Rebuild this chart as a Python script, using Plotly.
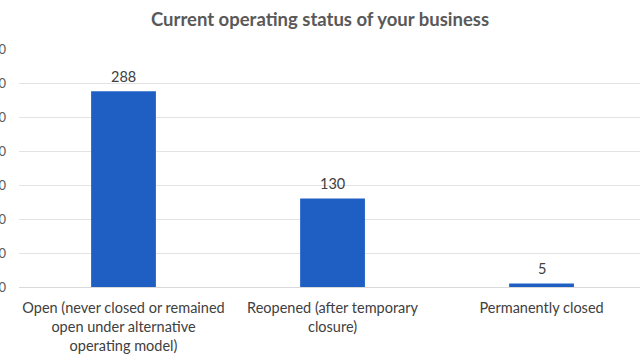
import plotly.graph_objects as go

categories = [
    "Open (never closed or remained<br>open under alternative<br>operating model)",
    "Reopened (after temporary<br>closure)",
    "Permanently closed",
]
values = [288, 130, 5]
y_ticks = [0, 50, 100, 150, 200, 250, 300, 350]

font_family = "Lato, 'Open Sans', sans-serif"

fig = go.Figure(
    go.Bar(
        x=categories,
        y=values,
        width=0.31,
        marker=dict(color="#1F5FC4", line=dict(width=0)),
        hoverinfo="x+y",
    )
)

for c, v in zip(categories, values):
    fig.add_annotation(
        x=c,
        y=v,
        text=str(v),
        showarrow=False,
        yanchor="middle",
        yshift=15,
        font=dict(size=14.5, color="#404040", family=font_family),
    )

fig.update_layout(
    width=640,
    height=360,
    margin=dict(l=19, r=0, t=49, b=73, autoexpand=False),
    paper_bgcolor="white",
    plot_bgcolor="white",
    showlegend=False,
    title=dict(
        text="<b>Current operating status of your business</b>",
        x=0.5,
        xref="container",
        y=1 - 20 / 360,
        yanchor="middle",
        xanchor="center",
        font=dict(size=18.5, color="#595959", family=font_family),
    ),
    font=dict(family=font_family, color="#404040"),
)

fig.update_xaxes(
    range=[-0.5, 2.471],
    showgrid=False,
    showline=True,
    linecolor="#D9D9D9",
    linewidth=1,
    ticks="",
    ticklabelstandoff=8,
    tickfont=dict(size=14.5, color="#404040", family=font_family),
    automargin=False,
)

fig.update_yaxes(
    range=[0, 350],
    tickvals=y_ticks,
    showgrid=True,
    gridcolor="#E3E3E3",
    gridwidth=1,
    zeroline=False,
    showline=False,
    ticks="",
    ticklabelstandoff=12,
    tickfont=dict(size=13, color="#595959", family=font_family),
    automargin=False,
)

fig.write_html(
    "out.html",
    config={"displayModeBar": False},
    post_script="document.body.style.margin='0';document.body.style.overflow='hidden';",
)
